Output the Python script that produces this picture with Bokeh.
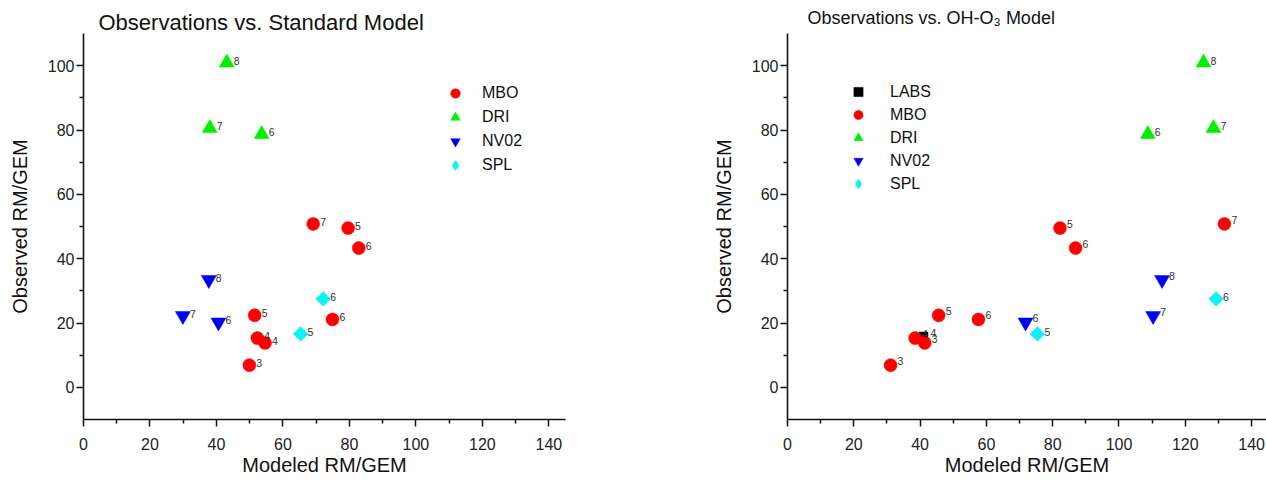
from bokeh.plotting import figure
from bokeh.layouts import row
from bokeh.models import Range1d, FixedTicker, Legend, LegendItem, Title
from bokeh.embed import file_html
from bokeh.resources import INLINE
from bokeh.core.properties import value
import math

FONT = "Liberation Sans"

# ---------------- data ----------------
# Observed RM/GEM (shared by both panels)
mbo_obs = [50.8, 49.5, 43.3, 22.4, 21.1, 15.3, 13.8, 6.9]
dri_obs = [100.9, 80.6, 78.7]
nv02_obs = [33.4, 22.2, 20.2]
spl_obs = [27.5, 16.6]
labs_obs = [15.8]

# Standard model (left panel)
mbo_std = [69.1, 79.6, 82.8, 51.5, 74.9, 52.3, 54.6, 49.9]
mbo_std_lab = ["7", "5", "6", "5", "6", "4", "4", "3"]
dri_std = [43.1, 38.0, 53.6]
dri_std_lab = ["8", "7", "6"]
nv02_std = [37.7, 29.9, 40.6]
nv02_std_lab = ["8", "7", "6"]
spl_std = [72.1, 65.3]
spl_std_lab = ["6", "5"]

# OH-O3 model (right panel)
labs_oh = [41.0]
labs_oh_lab = ["4"]
mbo_oh = [131.8, 82.2, 86.9, 45.6, 57.6, 38.5, 41.4, 31.1]
mbo_oh_lab = ["7", "5", "6", "5", "6", "4", "3", "3"]
dri_oh = [125.5, 128.5, 108.7]
dri_oh_lab = ["8", "7", "6"]
nv02_oh = [113.0, 110.3, 71.8]
nv02_oh_lab = ["8", "7", "6"]
spl_oh = [129.3, 75.4]
spl_oh_lab = ["6", "5"]

x_major = [0, 20, 40, 60, 80, 100, 120, 140]
x_minor = [10, 30, 50, 70, 90, 110, 130]
y_major = [0, 20, 40, 60, 80, 100]
y_minor = [10, 30, 50, 70, 90]

RED, GREEN, BLUE, CYAN, BLACK = "#FF0000", "#00F000", "#0000F5", "#10F0F8", "#000000"
NAN = float("nan")


def make_fig(width, border_left, border_right, x_end):
    p = figure(width=width, height=480, x_range=Range1d(0, x_end), y_range=Range1d(-10, 110),
               output_backend="svg", toolbar_location=None,
               min_border_left=border_left, min_border_right=border_right,
               min_border_top=33, min_border_bottom=61,
               outline_line_color=None)
    p.grid.visible = False
    p.xaxis.ticker = FixedTicker(ticks=x_major, minor_ticks=x_minor)
    p.yaxis.ticker = FixedTicker(ticks=y_major, minor_ticks=y_minor)
    for ax in (p.xaxis, p.yaxis):
        ax.axis_line_width = 1.6
        ax.axis_line_color = "#111111"
        ax.major_tick_line_color = "#111111"
        ax.minor_tick_line_color = "#111111"
        ax.major_tick_line_width = 1.5
        ax.minor_tick_line_width = 1.5
        ax.major_tick_in = 0
        ax.major_tick_out = 7
        ax.minor_tick_in = 0
        ax.minor_tick_out = 4
        ax.major_label_text_font = FONT
        ax.major_label_text_font_size = "16px"
        ax.major_label_text_color = "#222222"
        ax.axis_label_text_font = FONT
        ax.axis_label_text_font_style = "normal"
        ax.axis_label_text_font_size = "20px"
        ax.axis_label_text_color = "#111111"
    p.xaxis.major_label_standoff = 11
    p.xaxis.axis_label_standoff = 1
    p.yaxis.major_label_standoff = 2
    p.yaxis.axis_label_standoff = 14
    p.xaxis.axis_label = "Modeled RM/GEM"
    p.yaxis.axis_label = "Observed RM/GEM"
    return p


def add_series(p, xs, ys, labs, marker, color, size, dy, angle=0.0):
    r = p.scatter(x=xs, y=ys, marker=marker, size=size, fill_color=color,
                  line_color=color, line_width=0.5, angle=angle)
    p.text(x=xs, y=ys, text=labs, x_offset=7, y_offset=dy,
           text_font=value(FONT), text_font_size="10.5px", text_color="#333333",
           text_baseline="middle", text_align="left")
    return r


def legend_diamond(p):
    # invisible (NaN) renderer used only to draw the diamond symbol in the legend
    return p.scatter(x=[NAN], y=[NAN], marker="diamond", size=16, fill_color=CYAN, line_color=CYAN)


def make_legend(items, loc, glyph_h, standoff):
    return Legend(items=items, location=loc, padding=0, spacing=0, margin=0,
                  glyph_width=28, glyph_height=glyph_h, label_height=glyph_h, label_standoff=standoff,
                  border_line_color=None, background_fill_alpha=0,
                  label_text_font=FONT, label_text_font_size="16px", label_text_color="#111111")


# ---------------- left panel ----------------
p1 = make_fig(707, 83, 142, 145)
r_mbo1 = add_series(p1, mbo_std, mbo_obs, mbo_std_lab, "circle", RED, 13, -2)
r_dri1 = add_series(p1, dri_std, dri_obs, dri_std_lab, "triangle", GREEN, 15, -2)
r_nv1 = add_series(p1, nv02_std, nv02_obs, nv02_std_lab, "inverted_triangle", BLUE, 15, -2)
r_spl1 = add_series(p1, spl_std, spl_obs, spl_std_lab, "square", CYAN, 10.5, -2, math.pi / 4)
d1 = legend_diamond(p1)

p1.add_layout(make_legend([LegendItem(label="MBO", renderers=[r_mbo1]),
                           LegendItem(label="DRI", renderers=[r_dri1]),
                           LegendItem(label="NV02", renderers=[r_nv1]),
                           LegendItem(label="SPL", renderers=[d1])],
                          (358, 242), 24, 13))
p1.add_layout(Title(text="Observations vs. Standard Model", align="left", offset=15, standoff=-3,
                    text_font=FONT, text_font_size="22px", text_font_style="normal",
                    text_color="#111111"), "above")

# ---------------- right panel ----------------
p2 = make_fig(559, 80, 0, 144.5)
r_labs2 = add_series(p2, labs_oh, labs_obs, labs_oh_lab, "square", BLACK, 9, -4)
r_mbo2 = add_series(p2, mbo_oh, mbo_obs, mbo_oh_lab, "circle", RED, 13, -4)
r_dri2 = add_series(p2, dri_oh, dri_obs, dri_oh_lab, "triangle", GREEN, 15, -2)
r_nv2 = add_series(p2, nv02_oh, nv02_obs, nv02_oh_lab, "inverted_triangle", BLUE, 15, -4)
r_spl2 = add_series(p2, spl_oh, spl_obs, spl_oh_lab, "square", CYAN, 10.5, -2, math.pi / 4)
d2 = legend_diamond(p2)

p2.add_layout(make_legend([LegendItem(label="LABS", renderers=[r_labs2]),
                           LegendItem(label="MBO", renderers=[r_mbo2]),
                           LegendItem(label="DRI", renderers=[r_dri2]),
                           LegendItem(label="NV02", renderers=[r_nv2]),
                           LegendItem(label="SPL", renderers=[d2])],
                          (57, 224), 23, 18))
p2.add_layout(Title(text="Observations vs. OH-O\u2083 Model", align="left", offset=20, standoff=11,
                    text_font=FONT, text_font_size="18px", text_font_style="normal",
                    text_color="#111111"), "above")

layout = row(p1, p2)
open("out.html", "w").write(file_html(layout, INLINE))
